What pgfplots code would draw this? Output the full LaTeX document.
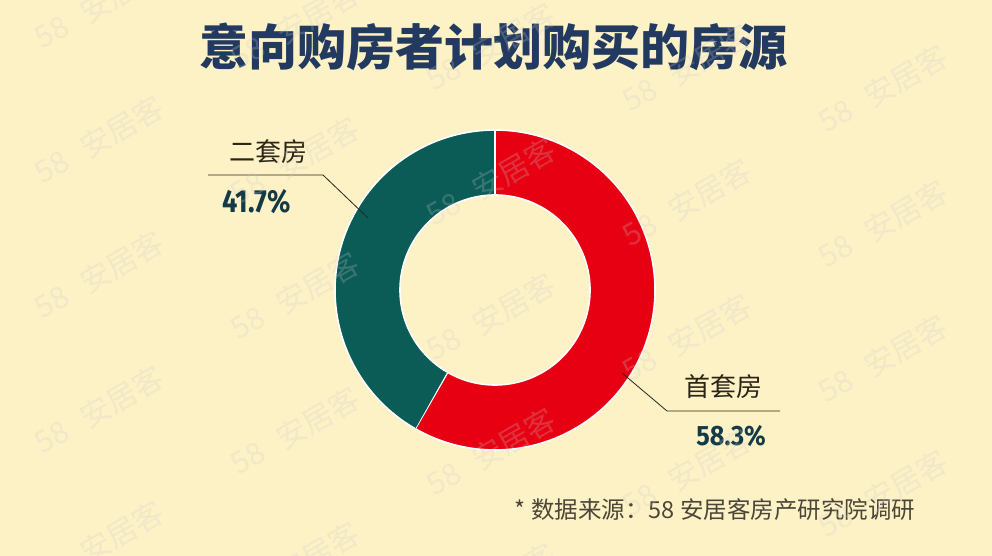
\documentclass[border=0pt]{standalone}
\usepackage{pgfplots}
\pgfplotsset{compat=1.18}
\usepackage{fontspec}
\setmainfont{Noto Sans CJK SC}
\newfontfamily\titlefont{Noto Sans CJK SC Black}
\newfontfamily\numfont{Fira Sans}

\definecolor{bg}{HTML}{FDF1C6}
\definecolor{firstred}{HTML}{E60012}
\definecolor{secondteal}{HTML}{0B5B57}
\definecolor{titleblue}{HTML}{223A60}
\definecolor{pctcol}{HTML}{143A47}
\definecolor{labcol}{HTML}{2B2518}
\definecolor{notecol}{HTML}{4B4638}

% shares of the two housing sources (percent)
\def\shareFirst{58.3}
\def\shareSecond{41.7}

\begin{document}
\begin{tikzpicture}
\useasboundingbox (0,0) rectangle (992bp,556bp);
\fill[bg] (0,0) rectangle (992bp,556bp);

\pgfmathsetmacro{\aStart}{90}
\pgfmathsetmacro{\aMid}{90-3.6*\shareFirst}
\pgfmathsetmacro{\aEnd}{\aMid-3.6*\shareSecond}

\begin{axis}[
  scale only axis, width=992bp, height=556bp,
  xmin=0, xmax=992, ymin=0, ymax=556,
  hide axis, clip=false,
]
% ring segment: outer arc for t in [0,1], inner arc back for t in (1,2]
\addplot[fill=firstred, draw=white, line width=1.6bp, domain=0:2, samples=801, variable=\t]
  ({495 + ifthenelse(\t<=1.001,160,95)*cos(\aStart + (\aMid-\aStart)*ifthenelse(\t<=1.001,\t,min(1,2.0025-\t)))},
   {266 + ifthenelse(\t<=1.001,160,95)*sin(\aStart + (\aMid-\aStart)*ifthenelse(\t<=1.001,\t,min(1,2.0025-\t)))});
\addplot[fill=secondteal, draw=white, line width=1.6bp, domain=0:2, samples=801, variable=\t]
  ({495 + ifthenelse(\t<=1.001,160,95)*cos(\aMid + (\aEnd-\aMid)*ifthenelse(\t<=1.001,\t,min(1,2.0025-\t)))},
   {266 + ifthenelse(\t<=1.001,160,95)*sin(\aMid + (\aEnd-\aMid)*ifthenelse(\t<=1.001,\t,min(1,2.0025-\t)))});

% leader lines
\draw[labcol, line width=0.8bp] (368,338) -- (323,381) -- (208,381);
\draw[labcol, line width=0.8bp] (622,183) -- (667,145) -- (780,145);

% labels
\node[text=labcol, font=\fontsize{26bp}{30bp}\selectfont] at (268,404) {二套房};
\node[anchor=west, inner sep=0pt, text=pctcol, font=\numfont\bfseries\fontsize{32bp}{36bp}\selectfont]
  at (222,354) {\scalebox{0.85}[1]{\shareSecond\%}};
\node[text=labcol, font=\fontsize{26bp}{30bp}\selectfont] at (723,169) {首套房};
\node[anchor=east, inner sep=0pt, text=pctcol, font=\numfont\bfseries\fontsize{28bp}{32bp}\selectfont]
  at (766,120) {\scalebox{0.9}[1]{\shareFirst\%}};

% title and source note
\node[text=titleblue, font=\titlefont\fontsize{49bp}{54bp}\selectfont] at (493,509) {意向购房者计划购买的房源};
\node[text=notecol, font=\fontsize{23.5bp}{27bp}\selectfont] at (715,46) {* 数据来源：58 安居客房产研究院调研};
\end{axis}

% faint repeated watermark
\begin{scope}
\clip (0,0) rectangle (992bp,556bp);
\foreach \k in {0,...,5} {
  \foreach \j in {-1,...,4} {
    \begin{scope}[shift={({(52+196*\k)*1bp},{(524-135*\j-21*\k)*1bp})}, rotate=30, transform shape]
      \node[text=gray!40, opacity=0.24, font=\fontsize{30bp}{32bp}\selectfont] at (0,0) {58};
      \node[text=gray!40, opacity=0.24, font=\fontsize{30bp}{32bp}\selectfont] at (80bp,0) {安居客};
    \end{scope}
  }
}
\end{scope}
\end{tikzpicture}
\end{document}
